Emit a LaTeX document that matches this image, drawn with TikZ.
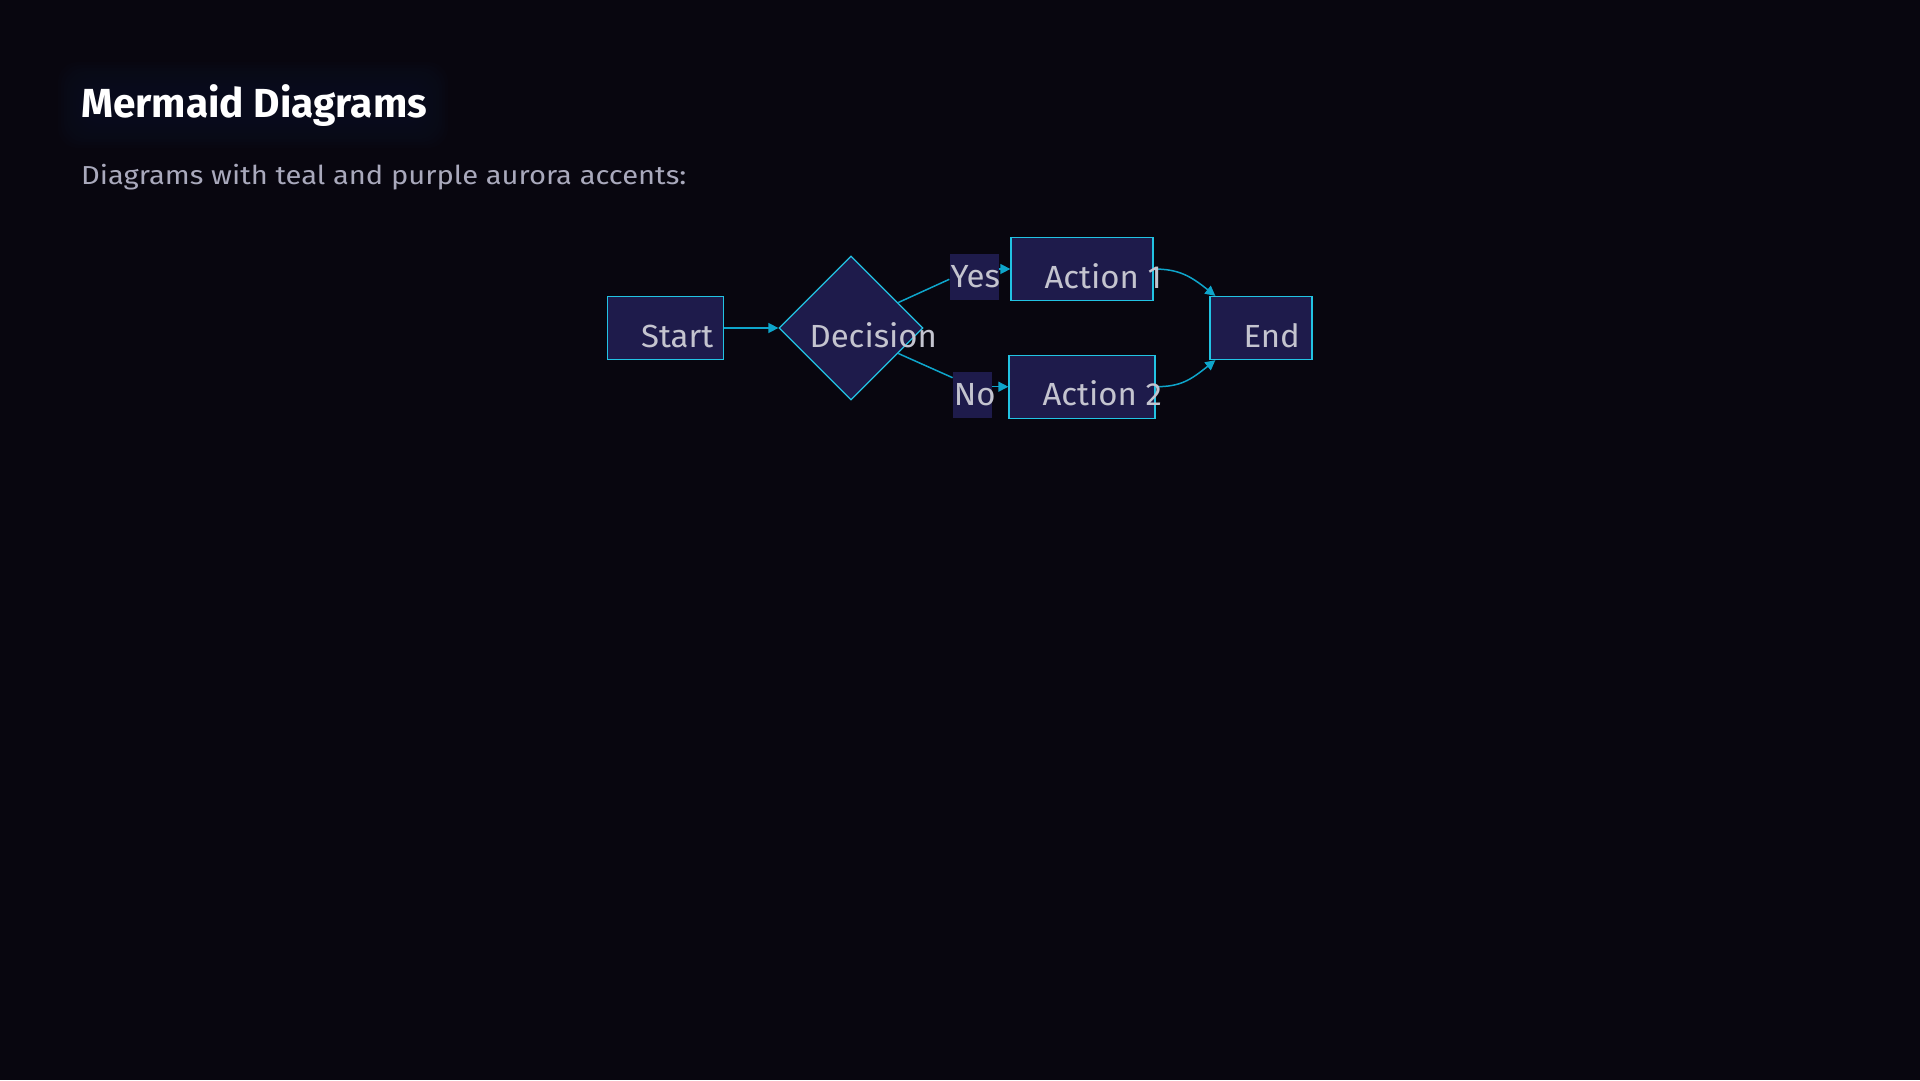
\documentclass[tikz,border=0pt]{standalone}
\usepackage{fontspec}
\setmainfont{Fira Sans}
\newfontfamily\widefont[FakeStretch=1.12]{Fira Sans}
\newfontfamily\nodefont[FakeStretch=1.03]{Fira Sans}
\usetikzlibrary{shapes.geometric,arrows.meta,calc}

\definecolor{pagebg}{HTML}{08060F}
\definecolor{nodefill}{HTML}{1E1B4B}
\definecolor{nodeline}{HTML}{22C3E3}
\definecolor{edgeline}{HTML}{0EA5CB}
\definecolor{nodetext}{HTML}{C4C4CF}
\definecolor{subtext}{HTML}{A9A9BC}
\definecolor{glow}{HTML}{0B1830}

\tikzset{
    box/.style={draw=nodeline, fill=nodefill, line width=1.3pt, minimum height=63pt, inner sep=0pt},
    choice/.style={diamond, aspect=1, draw=nodeline, fill=nodefill, line width=1.3pt, minimum width=144pt, minimum height=144pt, inner sep=0pt},
    tag/.style={fill=nodefill, inner sep=0pt, minimum height=46pt},
    txt/.style={anchor=base west, inner sep=0pt, text=nodetext, font=\nodefont\fontsize{32}{36}\selectfont},
    edge/.style={draw=edgeline, line width=1.5pt, -{Triangle[length=10pt,width=10pt]}},
    plain/.style={draw=edgeline, line width=1.5pt}
}

\begin{document}
\begin{tikzpicture}[x=1pt,y=-1pt]
    \useasboundingbox[fill=pagebg] (0,0) rectangle (1920,1080);
    % glow behind the heading
    \foreach \r in {0,3,...,24}
        \fill[glow, opacity=.07, rounded corners=20pt] (82-\r,86-\r) rectangle (424+\r,124+\r);
    \node[anchor=base west, inner sep=0pt, text=white, font=\bfseries\fontsize{40.6}{44}\selectfont] (title) at (81,117) {Mermaid Diagrams};
    \node[anchor=base west, inner sep=0pt, text=subtext, font=\widefont\fontsize{26}{30}\selectfont] (subtitle) at (81,184) {Diagrams with teal and purple aurora accents:};

    % shapes
    \node[box, minimum width=116pt] (start) at (665.5,328) {};
    \node[choice] (decision) at (851,328) {};
    \node[box, minimum width=142pt] (act1) at (1082,269) {};
    \node[box, minimum width=146pt] (act2) at (1082,386.7) {};
    \node[box, minimum width=102pt] (end) at (1261,328) {};
    \node[tag, minimum width=49pt] (yes) at (974,277.3) {};
    \node[tag, minimum width=39pt] (no) at (972.3,394.7) {};

    % connectors
    \draw[edge] (start) -- (decision);
    \draw[plain] ($(decision.north)!.65!(decision.east)$) -- ([yshift=-2pt]yes.west);
    \draw[edge] (yes.east |- act1) -- (act1);
    \draw[plain] ($(decision.south)!.65!(decision.east)$) -- ([yshift=17pt]no.west);
    \draw[edge] (no.east |- act2) -- (act2);
    \draw[edge] (act1.east) .. controls +(25,0) and +(-25,-20) .. ([xshift=6pt]end.north west);
    \draw[edge] (act2.east) .. controls +(25,0) and +(-25,20) .. ([xshift=6pt]end.south west);

    % texts
    \node[txt] (starttext) at ([xshift=34pt,yshift=-19pt]start.west) {Start};
    \node[txt] (decisiontext) at ([xshift=31pt,yshift=-19pt]decision.west) {Decision};
    \node[txt] (act1text) at ([xshift=34pt,yshift=-19pt]act1.west) {Action 1};
    \node[txt] (act2text) at ([xshift=34pt,yshift=-19pt]act2.west) {Action 2};
    \node[txt] (endtext) at ([xshift=34pt,yshift=-19pt]end.west) {End};
    \node[txt] (yestext) at ([xshift=1pt,yshift=-10.4pt]yes.west) {Yes};
    \node[txt] (notext) at ([xshift=1pt,yshift=-10.4pt]no.west) {No};
\end{tikzpicture}
\end{document}
